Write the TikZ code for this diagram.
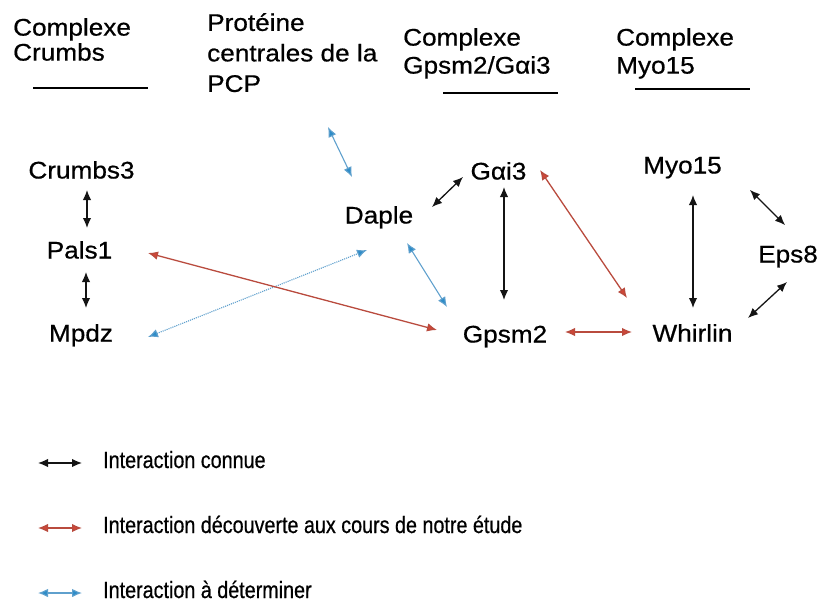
\documentclass[tikz,border=0pt]{standalone}
\usepackage{fontspec}
\setmainfont{Liberation Sans}
\newfontfamily\widef[FakeStretch=1.09,FakeBold=0.6]{Liberation Sans}
\newfontfamily\narrowf[FakeStretch=0.84,FakeBold=0.6]{Liberation Sans}
\usetikzlibrary{arrows.meta,calc}
\definecolor{knownc}{RGB}{20,20,20}
\definecolor{newc}{RGB}{185,75,62}
\definecolor{newhead}{RGB}{210,70,55}
\definecolor{tbdc}{RGB}{95,160,205}
\definecolor{tbdhead}{RGB}{45,140,200}
\tikzset{
  prot/.style={inner sep=0pt, text height=17pt, text depth=0pt, font=\widef\fontsize{24}{25}\selectfont},
  ttl/.style={inner sep=0pt, anchor=north west, align=left},
  leg/.style={inner sep=0pt, anchor=base west, font=\narrowf\fontsize{23.5}{25}\selectfont},
  known/.style={draw=knownc, line width=1.3pt, {Latex[length=10pt,width=8.5pt]}-{Latex[length=10pt,width=8.5pt]}},
  newint/.style={draw=newc, line width=1.3pt, {Latex[length=10pt,width=8.5pt,fill=newhead]}-{Latex[length=10pt,width=8.5pt,fill=newhead]}},
  tbd/.style={draw=tbdc, line width=1.1pt, {Latex[length=10pt,width=8.5pt,fill=tbdhead]}-{Latex[length=10pt,width=8.5pt,fill=tbdhead]}},
  uline/.style={draw=black, line width=1.3pt}
}
\begin{document}
\begin{tikzpicture}[x=1pt,y=-1pt]
\useasboundingbox (0,0) rectangle (819,602);
% titles
\node[ttl, font=\widef\fontsize{24}{25}\selectfont] (tcrb) at (13,18) {Complexe\\Crumbs};
\node[ttl, font=\widef\fontsize{24}{30.5}\selectfont] (tpcp) at (207,13) {Protéine\\centrales de la\\PCP};
\node[ttl, font=\widef\fontsize{24}{28}\selectfont] (tgps) at (403,28) {Complexe\\Gpsm2/Gαi3};
\node[ttl, font=\widef\fontsize{24}{28}\selectfont] (tmyo) at (616,28) {Complexe\\Myo15};
\draw[uline] (33,88) -- (148,88);
\draw[uline] (443,93) -- (558,93);
\draw[uline] (635,89) -- (750,89);
% proteins
\node[prot] (C3) at (81.5,170) {Crumbs3};
\node[prot] (P1) at (79.5,250) {Pals1};
\node[prot] (MP) at (81,333) {Mpdz};
\node[prot] (DA) at (379,215) {Daple};
\node[prot] (GI) at (498.5,171) {Gαi3};
\node[prot] (MY) at (682.5,165) {Myo15};
\node[prot] (EP) at (788,254) {Eps8};
\node[prot] (GP) at (505,334) {Gpsm2};
\node[prot] (WH) at (692.5,333) {Whirlin};
% interactions
\draw[known] ([shift={(5.5,20)}]C3.center) -- ([shift={(7.5,-22)}]P1.center);
\draw[known] ([shift={(6.5,22)}]P1.center) -- ([shift={(5,-25)}]MP.center);
\draw[tbd] ([shift={(121,114)}]tpcp.north west) -- ([shift={(-27,-38)}]DA.center);
\draw[tbd, densely dotted] ([shift={(67,4)}]MP.center) -- ([shift={(-12,35)}]DA.center);
\draw[tbd] ([shift={(28,28)}]DA.center) -- ([shift={(-58,-27)}]GP.center);
\draw[newint] ([shift={(68.5,3)}]P1.center) -- ([shift={(-68,-4)}]GP.center);
\draw[known] ([shift={(53,-8)}]DA.center) -- ([shift={(-35.5,6)}]GI.center);
\draw[known] ([shift={(5.5,16)}]GI.center) -- ([shift={(-1,-34)}]GP.center);
\draw[newint] ([shift={(41.5,-1)}]GI.center) -- ([shift={(-65.5,-35)}]WH.center);
\draw[newint] ([shift={(60,-2)}]GP.center) -- ([shift={(-60.5,-1)}]WH.center);
\draw[known] ([shift={(10.5,30)}]MY.center) -- ([shift={(0.5,-25)}]WH.center);
\draw[known] ([shift={(67.5,25)}]MY.center) -- ([shift={(-3,-29)}]EP.center);
\draw[known] ([shift={(-1,28)}]EP.center) -- ([shift={(55.5,-15)}]WH.center);
% legend
\node[leg] (L1) at (103,468) {Interaction connue};
\node[leg] (L2) at (103,533) {Interaction découverte aux cours de notre étude};
\node[leg] (L3) at (103,598) {Interaction à déterminer};
\draw[known] ([shift={(-65,-5)}]L1.base west) -- ([shift={(-21,-5)}]L1.base west);
\draw[newint] ([shift={(-65,-5)}]L2.base west) -- ([shift={(-21,-5)}]L2.base west);
\draw[tbd] ([shift={(-65,-5)}]L3.base west) -- ([shift={(-21,-5)}]L3.base west);
\end{tikzpicture}
\end{document}
